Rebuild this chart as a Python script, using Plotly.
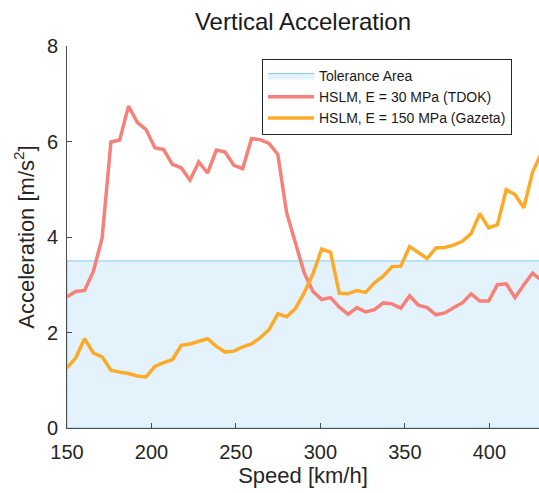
import plotly.graph_objects as go

speed = [150.0, 155.2, 160.4, 165.6, 170.8, 176.0, 181.2, 186.4, 191.6, 196.8,
         202.0, 207.2, 212.4, 217.6, 222.8, 228.0, 233.2, 238.4, 243.6, 248.8,
         254.0, 259.2, 264.4, 269.6, 274.8, 280.0, 285.2, 290.4, 295.6, 300.8,
         306.0, 311.2, 316.4, 321.6, 326.8, 332.0, 337.2, 342.4, 347.6, 352.8,
         358.0, 363.2, 368.4, 373.6, 378.8, 384.0, 389.2, 394.4, 399.6, 404.8,
         410.0, 415.2, 420.4, 425.6, 430.8]

acc_tdok = [2.75, 2.86, 2.88, 3.28, 3.98, 5.99, 6.03, 6.74, 6.40, 6.25,
            5.87, 5.83, 5.52, 5.45, 5.19, 5.57, 5.34, 5.82, 5.78, 5.50,
            5.43, 6.06, 6.04, 5.96, 5.73, 4.51, 3.88, 3.25, 2.86, 2.69,
            2.73, 2.53, 2.38, 2.52, 2.43, 2.48, 2.62, 2.60, 2.51, 2.77,
            2.57, 2.52, 2.37, 2.41, 2.52, 2.62, 2.81, 2.66, 2.66, 3.00,
            3.02, 2.73, 3.00, 3.24, 3.10]

acc_gazeta = [1.26, 1.47, 1.87, 1.57, 1.49, 1.21, 1.17, 1.14, 1.09, 1.07,
              1.29, 1.37, 1.43, 1.73, 1.76, 1.82, 1.87, 1.71, 1.59, 1.61,
              1.70, 1.76, 1.89, 2.06, 2.39, 2.33, 2.50, 2.83, 3.23, 3.75,
              3.68, 2.82, 2.81, 2.88, 2.84, 3.04, 3.18, 3.38, 3.39, 3.80,
              3.68, 3.55, 3.77, 3.78, 3.83, 3.91, 4.07, 4.49, 4.19, 4.26,
              4.99, 4.89, 4.61, 5.36, 5.75]

tolerance_limit = 3.5
tolerance_x = [150, 440]
x_ticks = [150, 200, 250, 300, 350, 400]
y_ticks = [0, 2, 4, 6, 8]

FONT = "Liberation Sans, Arial, Helvetica, sans-serif"

# tolerance area as closed polygon so the legend shows a filled patch
tol_x = [tolerance_x[0], tolerance_x[1], tolerance_x[1], tolerance_x[0], tolerance_x[0]]
tol_y = [0, 0, tolerance_limit, tolerance_limit, 0]

fig = go.Figure()
fig.add_trace(go.Scatter(
    x=tol_x, y=tol_y,
    mode="lines", fill="toself",
    fillcolor="rgba(228,243,251,1)",
    line=dict(color="rgb(130,205,238)", width=1),
    name="Tolerance Area", hoverinfo="skip"))
fig.add_trace(go.Scatter(
    x=speed, y=acc_tdok, mode="lines",
    line=dict(color="rgb(247,128,120)", width=3.5),
    name="HSLM, E = 30 MPa (TDOK)"))
fig.add_trace(go.Scatter(
    x=speed, y=acc_gazeta, mode="lines",
    line=dict(color="rgb(253,170,40)", width=3.5),
    name="HSLM, E = 150 MPa (Gazeta)"))

fig.update_layout(
    width=539, height=493,
    margin=dict(l=67, r=0, t=46, b=65),
    paper_bgcolor="white", plot_bgcolor="white",
    font=dict(family=FONT, color="#262626"),
    title=dict(text="Vertical Acceleration", x=0.5, xref="paper",
               y=1 - 22 / 493, yref="container", yanchor="middle",
               font=dict(size=24, color="#1a1a1a")),
    showlegend=True,
    legend=dict(x=0.413, y=0.966, xanchor="left", yanchor="top",
                bgcolor="white", bordercolor="#262626", borderwidth=1,
                font=dict(size=14, color="#1a1a1a"),
                tracegroupgap=0, itemwidth=46),
)
fig.update_xaxes(
    range=[150, 429.4], tickvals=x_ticks,
    ticks="inside", ticklen=5, tickcolor="#4d4d4d",
    showline=True, linecolor="#4d4d4d", linewidth=1,
    showgrid=False, zeroline=False,
    ticklabelstandoff=6,
    tickfont=dict(size=20, color="#262626"),
    title=dict(text="Speed [km/h]", font=dict(size=22, color="#262626"), standoff=4),
)
fig.update_yaxes(
    range=[0, 8], tickvals=y_ticks,
    ticks="inside", ticklen=5, tickcolor="#4d4d4d",
    showline=True, linecolor="#4d4d4d", linewidth=1,
    showgrid=False, zeroline=False,
    ticklabelstandoff=4,
    tickfont=dict(size=20, color="#262626"),
    title=dict(text="Acceleration [m/s<sup>2</sup>]", font=dict(size=22, color="#262626"), standoff=6),
)

fig.write_html("out.html",
               config={"displayModeBar": False},
               post_script="document.body.style.margin='0';document.body.style.padding='0';")
